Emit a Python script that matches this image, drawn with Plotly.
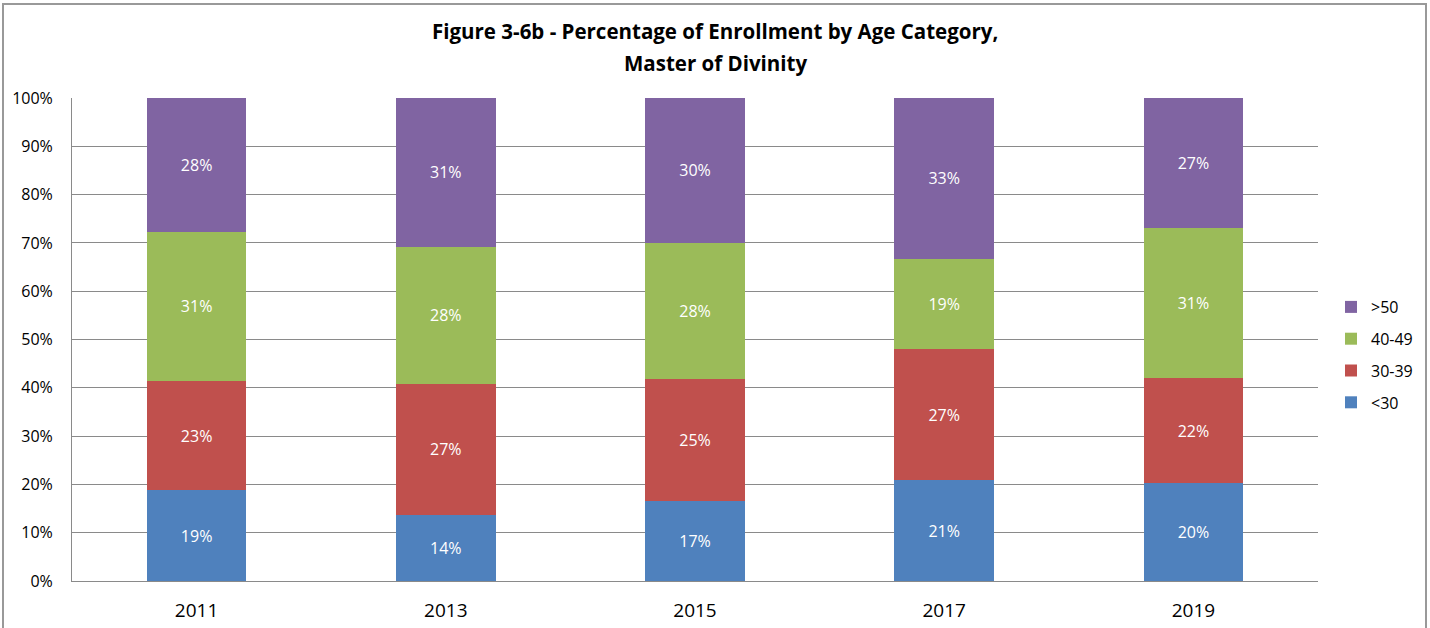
import plotly.graph_objects as go

years = ["2011", "2013", "2015", "2017", "2019"]
under30 = [0.188, 0.137, 0.166, 0.209, 0.203]
age30_39 = [0.226, 0.271, 0.252, 0.271, 0.217]
age40_49 = [0.309, 0.284, 0.282, 0.187, 0.311]
over50 = [0.277, 0.308, 0.300, 0.333, 0.269]

series = [
    ("<30", under30, "#4F81BD"),
    ("30-39", age30_39, "#C0504D"),
    ("40-49", age40_49, "#9BBB59"),
    (">50", over50, "#8064A2"),
]

FONT = "Open Sans"
fig = go.Figure()
for i, (name, vals, col) in enumerate(series):
    fig.add_trace(go.Bar(
        x=years, y=vals, name=name, marker_color=col, legendgroup=name,
        legendrank=1000 - i,
        marker_line_width=0,
        texttemplate="%{y:.0%}", textposition="inside", insidetextanchor="middle",
        textfont=dict(color="white", size=16, family=FONT),
    ))

L, R, T, B = 72, 112, 98, 47
W, H = 1430, 628
pw, ph = W - L - R, H - T - B

fig.update_layout(
    width=W, height=H,
    barmode="stack", bargap=0.6,
    margin=dict(l=L, r=R, t=T, b=B, autoexpand=False),
    paper_bgcolor="white", plot_bgcolor="white",
    font=dict(family=FONT, color="black", size=16),
    xaxis=dict(showgrid=False, showline=True, linecolor="#8a8a8a", linewidth=1,
               ticks="", tickfont=dict(size=19), ticklabelstandoff=12),
    yaxis=dict(range=[0, 1], tickvals=[i / 10 for i in range(11)], tickformat=".0%",
               showgrid=True, gridcolor="#8a8a8a", gridwidth=1,
               showline=True, linecolor="#8a8a8a", linewidth=1,
               ticks="", zeroline=False, tickfont=dict(size=16), ticklabelstandoff=15),
    legend=dict(x=(1331 - L) / pw, xanchor="left", y=(H - B - 355) / ph, yanchor="middle",
                traceorder="grouped", font=dict(size=16), tracegroupgap=8),
    showlegend=True,
)

fig.add_annotation(text="<b>Figure 3-6b - Percentage of Enrollment by Age Category,</b>",
                   xref="paper", yref="paper", x=(715 - L) / pw, y=(H - B - 31) / ph,
                   xanchor="center", yanchor="middle", showarrow=False,
                   font=dict(size=20.5, family=FONT, color="black"))
fig.add_annotation(text="<b>Master of Divinity</b>",
                   xref="paper", yref="paper", x=(715 - L) / pw, y=(H - B - 63) / ph,
                   xanchor="center", yanchor="middle", showarrow=False,
                   font=dict(size=20.5, family=FONT, color="black"))

fig.add_shape(type="rect", xref="paper", yref="paper",
              x0=(3 - L) / pw, x1=(1426 - L) / pw,
              y0=(H - B - 660) / ph, y1=(H - B - 4) / ph,
              line=dict(color="#999999", width=2), fillcolor="rgba(0,0,0,0)", layer="above")

fig.write_html("out.html", config={"displayModeBar": False},
               post_script="document.body.style.margin='0';")
